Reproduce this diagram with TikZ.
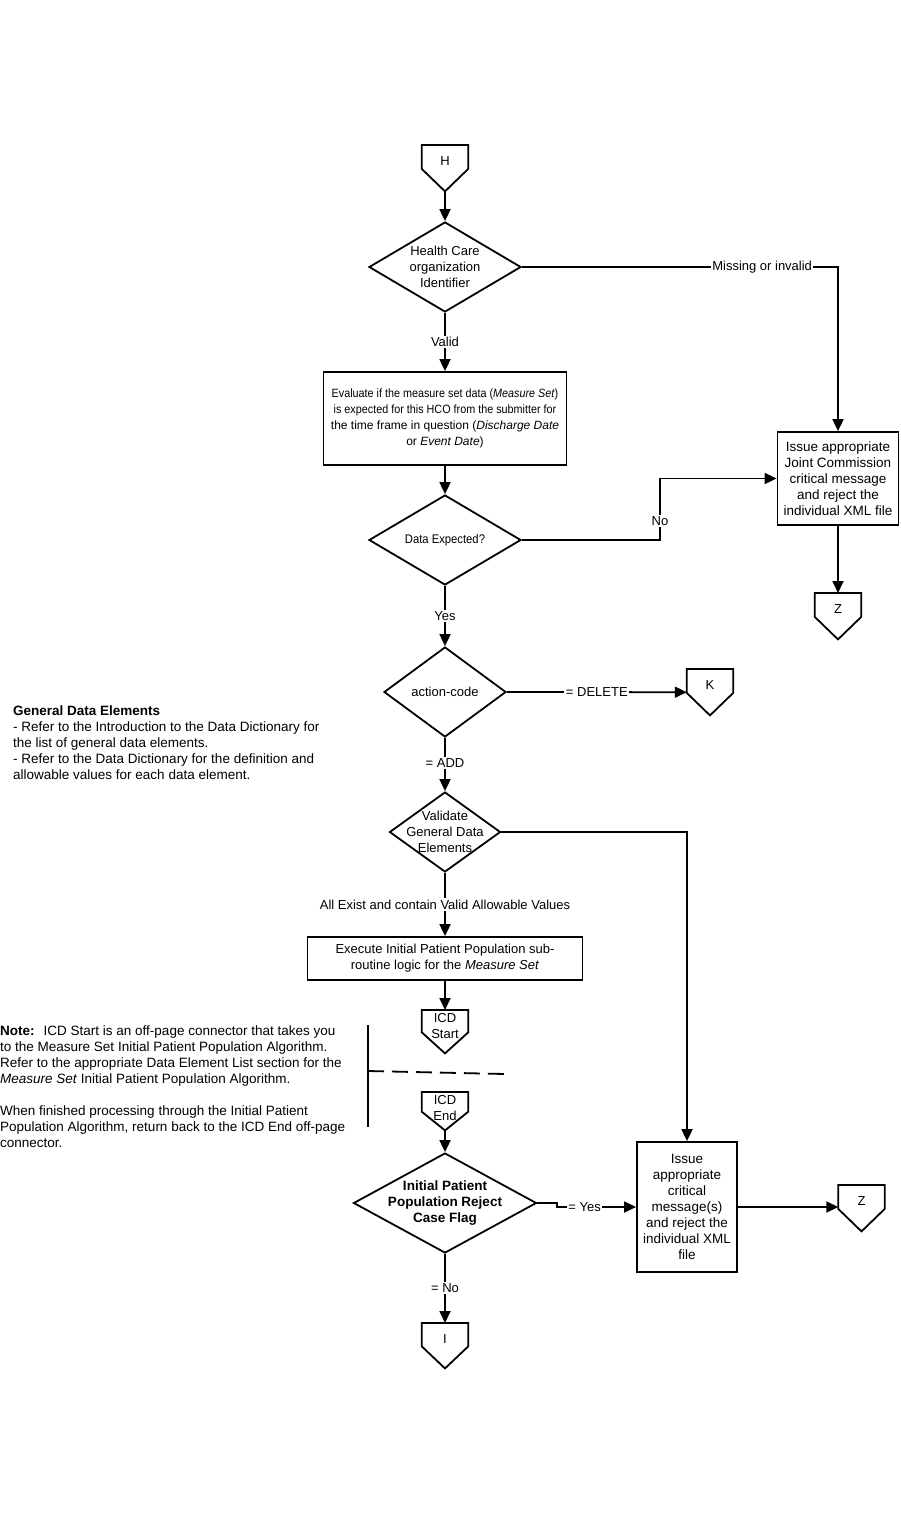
\documentclass[tikz,border=0pt]{standalone}
\usepackage{fontspec}
\setmainfont{Liberation Sans}
\newfontfamily\narrowsf{Liberation Sans}[FakeStretch=0.9]
\usepackage{tikz}
\usetikzlibrary{arrows.meta,calc,shapes.geometric}
\tikzset{>={Triangle[length=12pt,width=11pt]}}
\tikzset{
	flow/.style={line width=1.8pt},
	dia/.style={draw, shape=diamond, line width=1.8pt, inner sep=0pt},
	box/.style={draw, rectangle, line width=1.8pt, align=center, inner sep=1pt, font=\fontsize{13}{16}\selectfont},
	txt/.style={align=center, inner sep=0pt, font=\fontsize{13}{16}\selectfont},
	lbl/.style={fill=white, inner sep=1.5pt, font=\fontsize{13}{16}\selectfont},
	note/.style={anchor=north west, align=left, inner sep=0pt, font=\fontsize{13.5}{16}\selectfont}
}
\begin{document}
\begin{tikzpicture}[x=1pt, y=-1pt]
		\def\offpage#1#2#3#4{ % #1 Name, #2 Top centre, #3 Height, #4 Text
			\node[minimum width=46pt, minimum height=#3pt, inner sep=0pt, anchor=north] (#1) at (#2) {};
			\draw[flow, line join=miter] (#1.north west) -- (#1.north east) -- ($(#1.north east)+(0,0.52*#3)$) -- (#1.south) -- ($(#1.north west)+(0,0.52*#3)$) -- cycle;
			\node[txt] (#1-txt) at ($(#1.north)+(0,16)$) {#4};
		}
		\useasboundingbox (0,0) rectangle (901,1513);
		% upper part
		\offpage{H}{445,145}{46}{H}
		\node[dia, minimum width=152pt, minimum height=90pt] (hco) at (445,267) {};
		\node[txt] (hco-txt) at (hco) {Health Care\\organization\\Identifier};
		\node[box, minimum width=243pt, minimum height=93pt, font=\fontsize{12}{16}\selectfont] (eval) at (445,418.5) {{\narrowsf Evaluate if the measure set data (\textit{Measure Set})}\\{\narrowsf is expected for this HCO from the submitter for}\\the time frame in question (\textit{Discharge Date}\\or \textit{Event Date})};
		\node[dia, minimum width=152pt, minimum height=90pt] (dexp) at (445,540) {};
		\node[txt, font=\narrowsf\fontsize{12.5}{16}\selectfont] (dexp-txt) at (dexp) {Data Expected?};
		\node[box, minimum width=121pt, minimum height=93pt, font=\fontsize{13.5}{16}\selectfont] (issue1) at (838,478.5) {Issue appropriate\\Joint Commission\\critical message\\and reject the\\individual XML file};
		\offpage{Z1}{838,593}{46}{Z}
		\node[dia, minimum width=122pt, minimum height=90pt] (action) at (445,692) {};
		\node[txt] (action-txt) at (action) {action-code};
		\offpage{K}{710,669}{46}{K}
		\node[dia, minimum width=111pt, minimum height=80pt] (valid) at (445,832) {};
		\node[txt] (valid-txt) at (valid) {Validate\\General Data\\Elements};
		\node[box, minimum width=275pt, minimum height=43pt] (exec) at (445,958.5) {Execute Initial Patient Population sub-\\routine logic for the \textit{Measure Set}};
		% lower part
		\offpage{icds}{445,1010}{43}{ICD\\Start}
		\offpage{icde}{445,1092}{38}{ICD\\End}
		\node[dia, minimum width=183pt, minimum height=100pt] (flag) at (445,1203) {};
		\node[txt, font=\bfseries\fontsize{13.5}{16}\selectfont] (flag-txt) at (flag) {Initial Patient\\Population Reject\\Case Flag};
		\node[box, minimum width=100pt, minimum height=130pt, font=\fontsize{13.5}{16}\selectfont] (issue2) at (687,1207) {Issue\\appropriate\\critical\\message(s)\\and reject the\\individual XML\\file};
		\offpage{Z2}{861.5,1185}{46}{Z}
		\offpage{I}{445,1323}{45}{I}
		\draw[flow] (368,1025) -- (368,1127);
		\draw[flow, dash pattern=on 16pt off 8pt] (368,1071) -- (505,1074);
		% notes
		\node[note] (gde) at (13,706) {\textbf{General Data Elements}\\- Refer to the Introduction to the Data Dictionary for\\the list of general data elements.\\- Refer to the Data Dictionary for the definition and\\allowable values for each data element.};
		\node[note] (icdnote) at (0,1026) {\textbf{Note:}\hspace{9pt}ICD Start is an off-page connector that takes you\\to the Measure Set Initial Patient Population Algorithm.\\Refer to the appropriate Data Element List section for the\\\textit{Measure Set} Initial Patient Population Algorithm.\\[16pt]When finished processing through the Initial Patient\\Population Algorithm, return back to the ICD End off-page\\connector.};
		% connectors
		\draw[flow,->] (H.south) -- (hco.north);
		\draw[flow,->] (hco.east) -- node[lbl, pos=0.76] {Missing or invalid} (hco.east -| issue1.north) -- (issue1.north);
		\draw[flow,->] (hco.south) -- node[lbl] {Valid} (eval.north);
		\draw[flow,->] (eval.south) -- (dexp.north);
		\coordinate (nobend) at (660,540);
		\draw[flow,->] (dexp.east) -- (nobend) -- node[lbl, pos=0.31] {No} (nobend |- issue1.west) -- (issue1.west);
		\draw[flow,->] (issue1.south) -- (Z1.north);
		\draw[flow,->] (dexp.south) -- node[lbl] {Yes} (action.north);
		\draw[flow,->] (action.east) -- node[lbl, pos=0.5] {= DELETE} (K.west);
		\draw[flow,->] (action.south) -- node[lbl, pos=0.47] {= ADD} (valid.north);
		\draw[flow,->] (valid.east) -| (issue2.north);
		\draw[flow,->] (valid.south) -- node[lbl] {All Exist and contain Valid Allowable Values} (exec.north);
		\draw[flow,->] (exec.south) -- (icds.north);
		\draw[flow,->] (icde.south) -- (flag.north);
		\coordinate (yesjog) at (557,1203);
		\draw[flow,->] (flag.east) -- (yesjog) -- ++(0,4) -- node[lbl, pos=0.35] {= Yes} (issue2.west);
		\draw[flow,->] (issue2.east) -- (issue2.east -| Z2.west);
		\draw[flow,->] (flag.south) -- node[lbl, pos=0.49] {= No} (I.north);
	\end{tikzpicture}
\end{document}
